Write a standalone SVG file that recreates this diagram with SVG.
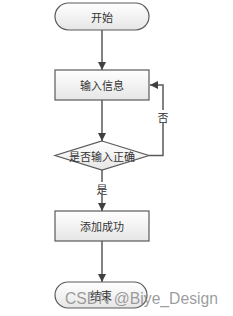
<svg xmlns="http://www.w3.org/2000/svg" width="233" height="316" viewBox="0 0 233 316">
<defs>
<linearGradient id="g" x1="0" y1="0" x2="0" y2="1">
<stop offset="0" stop-color="#ffffff"/>
<stop offset="1" stop-color="#e6e6e6"/>
</linearGradient>
<marker id="ah" viewBox="0 0 10 10" refX="10" refY="5" markerWidth="8" markerHeight="8" markerUnits="userSpaceOnUse" orient="auto">
<path d="M0,0 L10,5 L0,10 z" fill="#404040"/>
</marker>
<style>
.s{fill:url(#g);stroke:#5a5a5a;stroke-width:1.2}
.t{font-family:"Noto Sans CJK SC","Noto Sans",sans-serif;font-size:11px;fill:#333;text-anchor:middle;dominant-baseline:central}
.c{fill:none;stroke:#5a5a5a;stroke-width:1.5;marker-end:url(#ah)}
.l{font-family:"Noto Sans CJK SC","Noto Sans",sans-serif;font-size:11px;fill:#333;text-anchor:middle;dominant-baseline:central}
</style>
</defs>
<rect width="233" height="316" fill="#fff"/>
<g id="connectors">
<line class="c" x1="102" y1="30" x2="102" y2="70"/>
<line class="c" x1="102" y1="100" x2="102" y2="141"/>
<line class="c" x1="102" y1="170" x2="102" y2="211"/>
<line class="c" x1="102" y1="241" x2="102" y2="282"/>
<polyline class="c" points="149,155.5 163,155.5 163,85 150,85"/>
<rect x="157" y="110" width="12" height="13" fill="#fff"/>
<text class="l" x="163" y="116.5">否</text>
<rect x="95" y="182" width="14" height="13" fill="#fff"/>
<text class="l" x="102" y="188.5">是</text>
</g>
<g id="start">
<rect class="s" x="55" y="3" width="94" height="27" rx="13.5"/>
<text class="t" x="102" y="16.5">开始</text>
</g>
<g id="input">
<rect class="s" x="55" y="70" width="94" height="30"/>
<text class="t" x="102" y="85">输入信息</text>
</g>
<g id="check">
<polygon class="s" points="102,141 149,155.5 102,170 55,155.5"/>
<text class="t" x="102" y="155.5">是否输入正确</text>
</g>
<g id="success">
<rect class="s" x="55" y="211" width="94" height="30"/>
<text class="t" x="102" y="226">添加成功</text>
</g>
<g id="end">
<rect class="s" x="55" y="282" width="92" height="26" rx="13"/>
<text class="t" x="101" y="295">结束</text>
</g>
<text x="65" y="304" font-family="Liberation Sans, Arial, sans-serif" font-size="16" fill="#8a8a8a" fill-opacity="0.85" textLength="153" lengthAdjust="spacingAndGlyphs">CSDN @Biye_Design</text>
</svg>
